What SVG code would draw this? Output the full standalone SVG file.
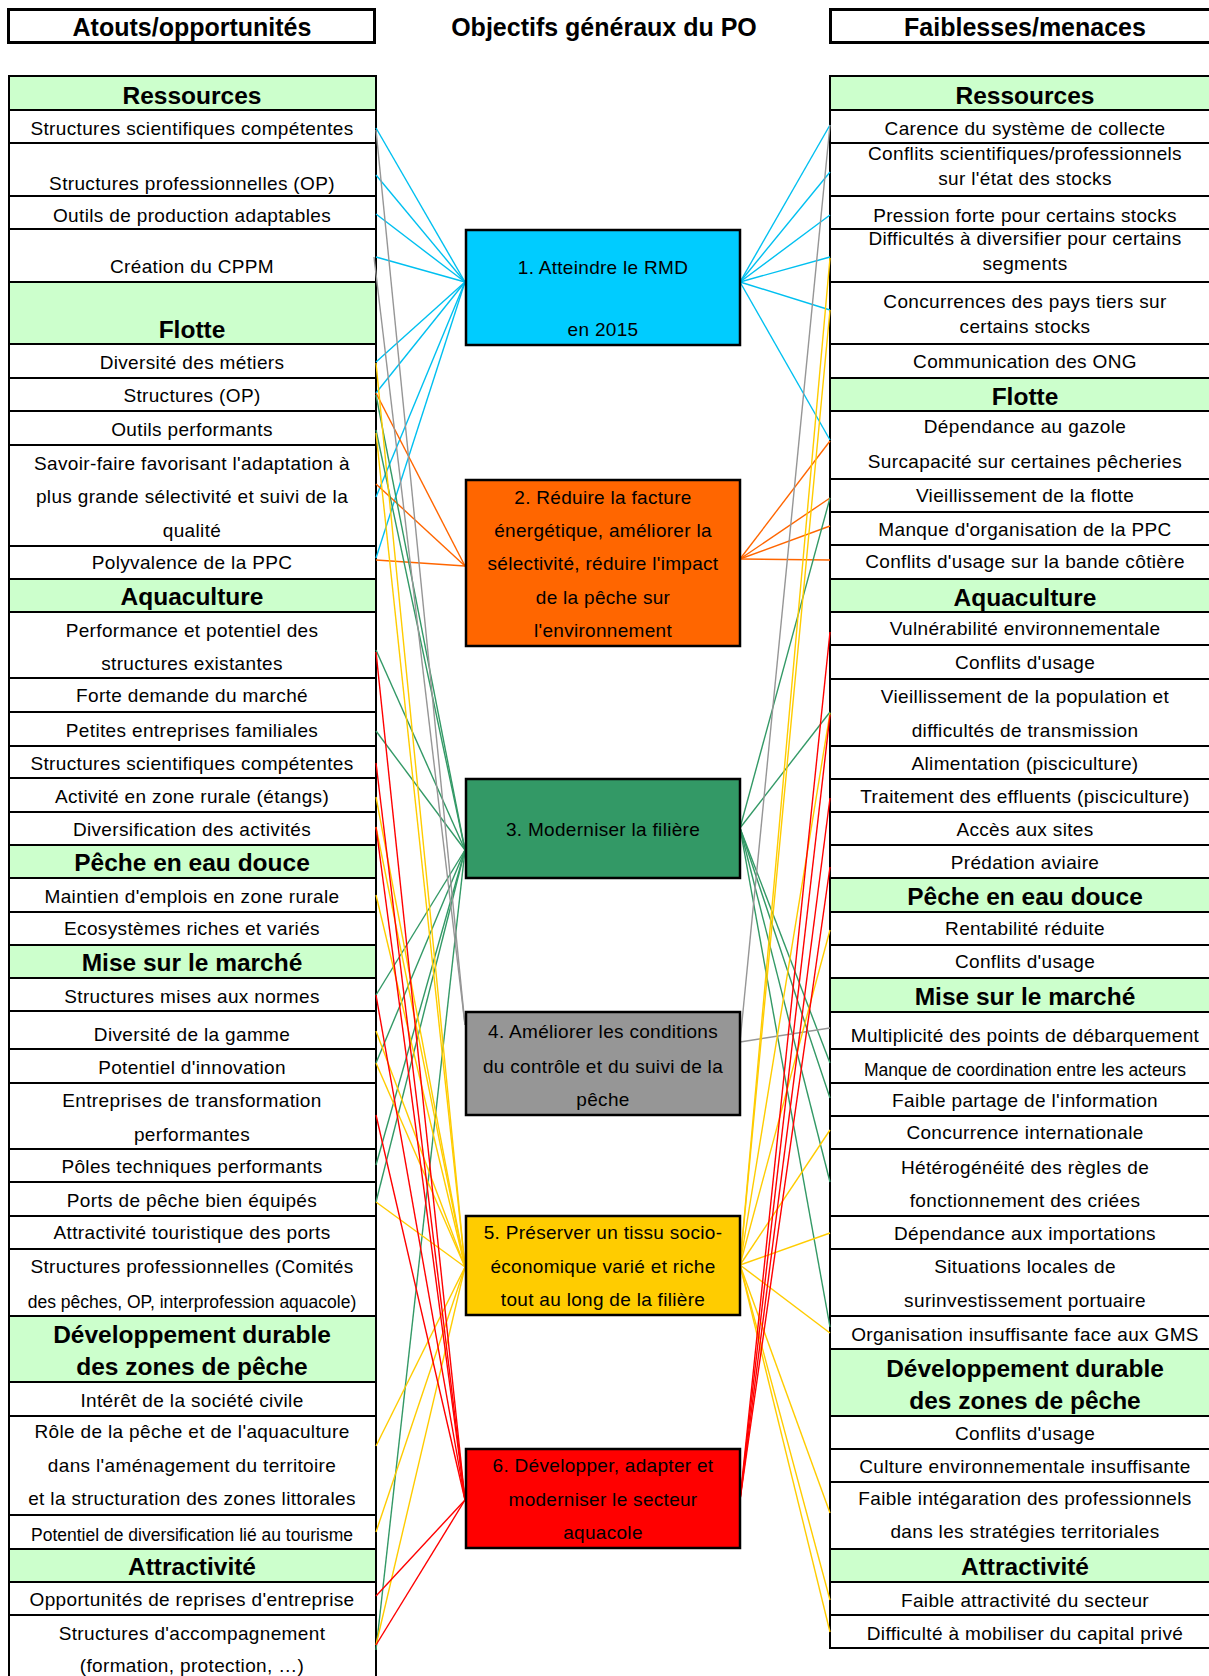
<svg xmlns="http://www.w3.org/2000/svg" width="1209" height="1676" viewBox="0 0 1209 1676">
<style>
text{font-family:"Liberation Sans",Arial,sans-serif;fill:#000}
.it{font-size:19px;text-anchor:middle;letter-spacing:0.35px}
.sm{font-size:17.5px;letter-spacing:0}
.hd{font-size:24.5px;font-weight:bold;text-anchor:middle}
.tt{font-size:25px;font-weight:bold;text-anchor:middle}
.bx{font-size:19px;text-anchor:middle;letter-spacing:0.3px}
.cell{fill:#fff;stroke:#000;stroke-width:2}
.head{fill:#ccffcc;stroke:#000;stroke-width:2}
.ttl{fill:#fff;stroke:#000;stroke-width:3}
.obj{stroke:#000;stroke-width:2.5}
#connectors line{stroke-width:1.4}
.c1{stroke:#00c0f0}.c2{stroke:#ff6600}.c3{stroke:#339966}.c4{stroke:#969696}.c5{stroke:#ffcc00}.c6{stroke:#ff0000}
</style>
<rect width="1209" height="1676" fill="#fff"/>
<g id="titles">
<g id="title-left"><rect class="ttl" x="8.5" y="9.5" width="366" height="33"/><text class="tt" x="192" y="36">Atouts/opportunités</text></g>
<g id="title-center"><text class="tt" x="604" y="36">Objectifs généraux du PO</text></g>
<g id="title-right"><rect class="ttl" x="830.5" y="9.5" width="390" height="33"/><text class="tt" x="1025" y="36">Faiblesses/menaces</text></g>
</g>
<g id="left-table">
<g id="L-h1"><rect class="head" x="9" y="76" width="367" height="34"/><text class="hd" x="192" y="104">Ressources</text></g>
<g id="L1"><rect class="cell" x="9" y="110" width="367" height="33"/><text class="it" x="192" y="135">Structures scientifiques compétentes</text></g>
<g id="L2"><rect class="cell" x="9" y="143" width="367" height="53"/><text class="it" x="192" y="190">Structures professionnelles (OP)</text></g>
<g id="L3"><rect class="cell" x="9" y="196" width="367" height="33"/><text class="it" x="192" y="222">Outils de production adaptables</text></g>
<g id="L4"><rect class="cell" x="9" y="229" width="367" height="53"/><text class="it" x="192" y="273">Création du CPPM</text></g>
<g id="L-h2"><rect class="head" x="9" y="282" width="367" height="62"/><text class="hd" x="192" y="338">Flotte</text></g>
<g id="L5"><rect class="cell" x="9" y="344" width="367" height="34"/><text class="it" x="192" y="369">Diversité des métiers</text></g>
<g id="L6"><rect class="cell" x="9" y="378" width="367" height="33"/><text class="it" x="192" y="402">Structures (OP)</text></g>
<g id="L7"><rect class="cell" x="9" y="411" width="367" height="34"/><text class="it" x="192" y="436">Outils performants</text></g>
<g id="L8"><rect class="cell" x="9" y="445" width="367" height="101"/><text class="it" x="192" y="470">Savoir-faire favorisant l'adaptation à</text><text class="it" x="192" y="503">plus grande sélectivité et suivi de la</text><text class="it" x="192" y="537">qualité</text></g>
<g id="L9"><rect class="cell" x="9" y="546" width="367" height="33"/><text class="it" x="192" y="569">Polyvalence de la PPC</text></g>
<g id="L-h3"><rect class="head" x="9" y="579" width="367" height="33"/><text class="hd" x="192" y="605">Aquaculture</text></g>
<g id="L10"><rect class="cell" x="9" y="612" width="367" height="66"/><text class="it" x="192" y="637">Performance et potentiel des</text><text class="it" x="192" y="670">structures existantes</text></g>
<g id="L11"><rect class="cell" x="9" y="678" width="367" height="34"/><text class="it" x="192" y="702">Forte demande du marché</text></g>
<g id="L12"><rect class="cell" x="9" y="712" width="367" height="34"/><text class="it" x="192" y="737">Petites entreprises familiales</text></g>
<g id="L13"><rect class="cell" x="9" y="746" width="367" height="32"/><text class="it" x="192" y="770">Structures scientifiques compétentes</text></g>
<g id="L14"><rect class="cell" x="9" y="778" width="367" height="34"/><text class="it" x="192" y="803">Activité en zone rurale (étangs)</text></g>
<g id="L15"><rect class="cell" x="9" y="812" width="367" height="33"/><text class="it" x="192" y="836">Diversification des activités</text></g>
<g id="L-h4"><rect class="head" x="9" y="845" width="367" height="33"/><text class="hd" x="192" y="871">Pêche en eau douce</text></g>
<g id="L16"><rect class="cell" x="9" y="878" width="367" height="34"/><text class="it" x="192" y="903">Maintien d'emplois en zone rurale</text></g>
<g id="L17"><rect class="cell" x="9" y="912" width="367" height="33"/><text class="it" x="192" y="935">Ecosystèmes riches et variés</text></g>
<g id="L-h5"><rect class="head" x="9" y="945" width="367" height="33"/><text class="hd" x="192" y="971">Mise sur le marché</text></g>
<g id="L18"><rect class="cell" x="9" y="978" width="367" height="33"/><text class="it" x="192" y="1003">Structures mises aux normes</text></g>
<g id="L19"><rect class="cell" x="9" y="1011" width="367" height="38"/><text class="it" x="192" y="1041">Diversité de la gamme</text></g>
<g id="L20"><rect class="cell" x="9" y="1049" width="367" height="34"/><text class="it" x="192" y="1074">Potentiel d'innovation</text></g>
<g id="L21"><rect class="cell" x="9" y="1083" width="367" height="66"/><text class="it" x="192" y="1107">Entreprises de transformation</text><text class="it" x="192" y="1141">performantes</text></g>
<g id="L22"><rect class="cell" x="9" y="1149" width="367" height="33"/><text class="it" x="192" y="1173">Pôles techniques performants</text></g>
<g id="L23"><rect class="cell" x="9" y="1182" width="367" height="34"/><text class="it" x="192" y="1207">Ports de pêche bien équipés</text></g>
<g id="L24"><rect class="cell" x="9" y="1216" width="367" height="33"/><text class="it" x="192" y="1239">Attractivité touristique des ports</text></g>
<g id="L25"><rect class="cell" x="9" y="1249" width="367" height="67"/><text class="it" x="192" y="1273">Structures professionnelles (Comités</text><text class="it sm" x="192" y="1308">des pêches, OP, interprofession aquacole)</text></g>
<g id="L-h6"><rect class="head" x="9" y="1316" width="367" height="66"/><text class="hd" x="192" y="1343">Développement durable</text><text class="hd" x="192" y="1375">des zones de pêche</text></g>
<g id="L26"><rect class="cell" x="9" y="1382" width="367" height="34"/><text class="it" x="192" y="1407">Intérêt de la société civile</text></g>
<g id="L27"><rect class="cell" x="9" y="1416" width="367" height="99"/><text class="it" x="192" y="1438">Rôle de la pêche et de l'aquaculture</text><text class="it" x="192" y="1472">dans l'aménagement du territoire</text><text class="it" x="192" y="1505">et la structuration des zones littorales</text></g>
<g id="L28"><rect class="cell" x="9" y="1515" width="367" height="34"/><text class="it sm" x="192" y="1541">Potentiel de diversification lié au tourisme</text></g>
<g id="L-h7"><rect class="head" x="9" y="1549" width="367" height="33"/><text class="hd" x="192" y="1575">Attractivité</text></g>
<g id="L29"><rect class="cell" x="9" y="1582" width="367" height="33"/><text class="it" x="192" y="1606">Opportunités de reprises d'entreprise</text></g>
<g id="L30"><rect class="cell" x="9" y="1615" width="367" height="80"/><text class="it" x="192" y="1640">Structures d'accompagnement</text><text class="it" x="192" y="1672">(formation, protection, …)</text></g>
</g>
<g id="right-table">
<g id="R-h1"><rect class="head" x="830" y="76" width="392" height="34"/><text class="hd" x="1025" y="104">Ressources</text></g>
<g id="R1"><rect class="cell" x="830" y="110" width="392" height="33"/><text class="it" x="1025" y="135">Carence du système de collecte</text></g>
<g id="R2"><rect class="cell" x="830" y="143" width="392" height="53"/><text class="it" x="1025" y="160">Conflits scientifiques/professionnels</text><text class="it" x="1025" y="185">sur l'état des stocks</text></g>
<g id="R3"><rect class="cell" x="830" y="196" width="392" height="33"/><text class="it" x="1025" y="222">Pression forte pour certains stocks</text></g>
<g id="R4"><rect class="cell" x="830" y="229" width="392" height="53"/><text class="it" x="1025" y="245">Difficultés à diversifier pour certains</text><text class="it" x="1025" y="270">segments</text></g>
<g id="R5"><rect class="cell" x="830" y="282" width="392" height="62"/><text class="it" x="1025" y="308">Concurrences des pays tiers sur</text><text class="it" x="1025" y="333">certains stocks</text></g>
<g id="R6"><rect class="cell" x="830" y="344" width="392" height="34"/><text class="it" x="1025" y="368">Communication des ONG</text></g>
<g id="R-h2"><rect class="head" x="830" y="378" width="392" height="33"/><text class="hd" x="1025" y="405">Flotte</text></g>
<g id="R7"><rect class="cell" x="830" y="411" width="392" height="68"/><text class="it" x="1025" y="433">Dépendance au gazole</text><text class="it" x="1025" y="468">Surcapacité sur certaines pêcheries</text></g>
<g id="R8"><rect class="cell" x="830" y="479" width="392" height="33"/><text class="it" x="1025" y="502">Vieillissement de la flotte</text></g>
<g id="R9"><rect class="cell" x="830" y="512" width="392" height="33"/><text class="it" x="1025" y="536">Manque d'organisation de la PPC</text></g>
<g id="R10"><rect class="cell" x="830" y="545" width="392" height="34"/><text class="it" x="1025" y="568">Conflits d'usage sur la bande côtière</text></g>
<g id="R-h3"><rect class="head" x="830" y="579" width="392" height="33"/><text class="hd" x="1025" y="606">Aquaculture</text></g>
<g id="R11"><rect class="cell" x="830" y="612" width="392" height="33"/><text class="it" x="1025" y="635">Vulnérabilité environnementale</text></g>
<g id="R12"><rect class="cell" x="830" y="645" width="392" height="34"/><text class="it" x="1025" y="669">Conflits d'usage</text></g>
<g id="R13"><rect class="cell" x="830" y="679" width="392" height="67"/><text class="it" x="1025" y="703">Vieillissement de la population et</text><text class="it" x="1025" y="737">difficultés de transmission</text></g>
<g id="R14"><rect class="cell" x="830" y="746" width="392" height="33"/><text class="it" x="1025" y="770">Alimentation (pisciculture)</text></g>
<g id="R15"><rect class="cell" x="830" y="779" width="392" height="33"/><text class="it" x="1025" y="803">Traitement des effluents (pisciculture)</text></g>
<g id="R16"><rect class="cell" x="830" y="812" width="392" height="33"/><text class="it" x="1025" y="836">Accès aux sites</text></g>
<g id="R17"><rect class="cell" x="830" y="845" width="392" height="33"/><text class="it" x="1025" y="869">Prédation aviaire</text></g>
<g id="R-h4"><rect class="head" x="830" y="878" width="392" height="34"/><text class="hd" x="1025" y="905">Pêche en eau douce</text></g>
<g id="R18"><rect class="cell" x="830" y="912" width="392" height="33"/><text class="it" x="1025" y="935">Rentabilité réduite</text></g>
<g id="R19"><rect class="cell" x="830" y="945" width="392" height="33"/><text class="it" x="1025" y="968">Conflits d'usage</text></g>
<g id="R-h5"><rect class="head" x="830" y="978" width="392" height="34"/><text class="hd" x="1025" y="1005">Mise sur le marché</text></g>
<g id="R20"><rect class="cell" x="830" y="1012" width="392" height="37"/><text class="it" x="1025" y="1042">Multiplicité des points de débarquement</text></g>
<g id="R21"><rect class="cell" x="830" y="1049" width="392" height="34"/><text class="it sm" x="1025" y="1076">Manque de coordination entre les acteurs</text></g>
<g id="R22"><rect class="cell" x="830" y="1083" width="392" height="33"/><text class="it" x="1025" y="1107">Faible partage de l'information</text></g>
<g id="R23"><rect class="cell" x="830" y="1116" width="392" height="33"/><text class="it" x="1025" y="1139">Concurrence internationale</text></g>
<g id="R24"><rect class="cell" x="830" y="1149" width="392" height="67"/><text class="it" x="1025" y="1174">Hétérogénéité des règles de</text><text class="it" x="1025" y="1207">fonctionnement des criées</text></g>
<g id="R25"><rect class="cell" x="830" y="1216" width="392" height="33"/><text class="it" x="1025" y="1240">Dépendance aux importations</text></g>
<g id="R26"><rect class="cell" x="830" y="1249" width="392" height="67"/><text class="it" x="1025" y="1273">Situations locales de</text><text class="it" x="1025" y="1307">surinvestissement portuaire</text></g>
<g id="R27"><rect class="cell" x="830" y="1316" width="392" height="33"/><text class="it" x="1025" y="1341">Organisation insuffisante face aux GMS</text></g>
<g id="R-h6"><rect class="head" x="830" y="1349" width="392" height="67"/><text class="hd" x="1025" y="1377">Développement durable</text><text class="hd" x="1025" y="1409">des zones de pêche</text></g>
<g id="R28"><rect class="cell" x="830" y="1416" width="392" height="33"/><text class="it" x="1025" y="1440">Conflits d'usage</text></g>
<g id="R29"><rect class="cell" x="830" y="1449" width="392" height="33"/><text class="it" x="1025" y="1473">Culture environnementale insuffisante</text></g>
<g id="R30"><rect class="cell" x="830" y="1482" width="392" height="67"/><text class="it" x="1025" y="1505">Faible intégaration des professionnels</text><text class="it" x="1025" y="1538">dans les stratégies territoriales</text></g>
<g id="R-h7"><rect class="head" x="830" y="1549" width="392" height="33"/><text class="hd" x="1025" y="1575">Attractivité</text></g>
<g id="R31"><rect class="cell" x="830" y="1582" width="392" height="33"/><text class="it" x="1025" y="1607">Faible attractivité du secteur</text></g>
<g id="R32"><rect class="cell" x="830" y="1615" width="392" height="33"/><text class="it" x="1025" y="1640">Difficulté à mobiliser du capital privé</text></g>
</g>
<g id="connectors">
<line class="c1" x1="465" y1="282" x2="376" y2="128"/>
<line class="c1" x1="465" y1="282" x2="376" y2="175"/>
<line class="c1" x1="465" y1="282" x2="376" y2="214"/>
<line class="c1" x1="465" y1="282" x2="376" y2="257"/>
<line class="c1" x1="465" y1="282" x2="376" y2="362"/>
<line class="c1" x1="465" y1="282" x2="376" y2="393"/>
<line class="c1" x1="465" y1="282" x2="376" y2="497"/>
<line class="c1" x1="465" y1="282" x2="376" y2="558"/>
<line class="c1" x1="740" y1="282" x2="830" y2="125"/>
<line class="c1" x1="740" y1="282" x2="830" y2="172"/>
<line class="c1" x1="740" y1="282" x2="830" y2="215"/>
<line class="c1" x1="740" y1="282" x2="830" y2="257"/>
<line class="c1" x1="740" y1="282" x2="830" y2="310"/>
<line class="c1" x1="740" y1="282" x2="830" y2="440"/>
<line class="c2" x1="465" y1="566" x2="376" y2="393"/>
<line class="c2" x1="465" y1="566" x2="376" y2="484"/>
<line class="c2" x1="465" y1="566" x2="376" y2="560"/>
<line class="c2" x1="740" y1="559" x2="830" y2="441"/>
<line class="c2" x1="740" y1="559" x2="830" y2="498"/>
<line class="c2" x1="740" y1="559" x2="830" y2="526"/>
<line class="c2" x1="740" y1="559" x2="830" y2="560"/>
<line class="c3" x1="465" y1="850" x2="376" y2="395"/>
<line class="c3" x1="465" y1="850" x2="376" y2="430"/>
<line class="c3" x1="465" y1="850" x2="376" y2="650"/>
<line class="c3" x1="465" y1="850" x2="376" y2="731"/>
<line class="c3" x1="465" y1="850" x2="376" y2="995"/>
<line class="c3" x1="465" y1="850" x2="376" y2="1063"/>
<line class="c3" x1="465" y1="850" x2="376" y2="1165"/>
<line class="c3" x1="465" y1="850" x2="376" y2="1202"/>
<line class="c3" x1="465" y1="850" x2="376" y2="1650"/>
<line class="c3" x1="740" y1="828" x2="830" y2="498"/>
<line class="c3" x1="740" y1="828" x2="830" y2="712"/>
<line class="c3" x1="740" y1="828" x2="830" y2="1063"/>
<line class="c3" x1="740" y1="828" x2="830" y2="1098"/>
<line class="c3" x1="740" y1="828" x2="830" y2="1182"/>
<line class="c3" x1="740" y1="828" x2="830" y2="1327"/>
<line class="c4" x1="465" y1="1025" x2="376" y2="130"/>
<line class="c4" x1="465" y1="1025" x2="374" y2="257"/>
<line class="c4" x1="740" y1="1042" x2="830" y2="125"/>
<line class="c4" x1="740" y1="1042" x2="830" y2="1028"/>
<line class="c5" x1="465" y1="1267" x2="376" y2="363"/>
<line class="c5" x1="465" y1="1267" x2="376" y2="433"/>
<line class="c5" x1="465" y1="1267" x2="376" y2="797"/>
<line class="c5" x1="465" y1="1267" x2="376" y2="827"/>
<line class="c5" x1="465" y1="1267" x2="376" y2="895"/>
<line class="c5" x1="465" y1="1267" x2="376" y2="1031"/>
<line class="c5" x1="465" y1="1267" x2="376" y2="1063"/>
<line class="c5" x1="465" y1="1267" x2="376" y2="1202"/>
<line class="c5" x1="465" y1="1267" x2="376" y2="1446"/>
<line class="c5" x1="465" y1="1267" x2="376" y2="1532"/>
<line class="c5" x1="465" y1="1267" x2="376" y2="1645"/>
<line class="c5" x1="740" y1="1265" x2="830" y2="258"/>
<line class="c5" x1="740" y1="1265" x2="830" y2="310"/>
<line class="c5" x1="740" y1="1265" x2="830" y2="713"/>
<line class="c5" x1="740" y1="1265" x2="830" y2="930"/>
<line class="c5" x1="740" y1="1265" x2="830" y2="1130"/>
<line class="c5" x1="740" y1="1265" x2="830" y2="1233"/>
<line class="c5" x1="740" y1="1265" x2="830" y2="1333"/>
<line class="c5" x1="740" y1="1265" x2="830" y2="1513"/>
<line class="c5" x1="740" y1="1265" x2="830" y2="1600"/>
<line class="c5" x1="740" y1="1265" x2="830" y2="1632"/>
<line class="c6" x1="465" y1="1500" x2="376" y2="652"/>
<line class="c6" x1="465" y1="1500" x2="376" y2="763"/>
<line class="c6" x1="465" y1="1500" x2="376" y2="827"/>
<line class="c6" x1="465" y1="1500" x2="376" y2="995"/>
<line class="c6" x1="465" y1="1500" x2="376" y2="1115"/>
<line class="c6" x1="465" y1="1500" x2="376" y2="1596"/>
<line class="c6" x1="465" y1="1500" x2="376" y2="1645"/>
<line class="c6" x1="740" y1="1500" x2="830" y2="632"/>
<line class="c6" x1="740" y1="1500" x2="830" y2="715"/>
<line class="c6" x1="740" y1="1500" x2="830" y2="798"/>
<line class="c6" x1="740" y1="1500" x2="830" y2="867"/>
</g>
<g id="objectives">
<g id="obj1"><rect class="obj" x="466" y="230" width="274" height="115" fill="#00ccff"/><text class="bx" x="603" y="274">1. Atteindre le RMD</text><text class="bx" x="603" y="336">en 2015</text></g>
<g id="obj2"><rect class="obj" x="466" y="480" width="274" height="166" fill="#ff6600"/><text class="bx" x="603" y="504">2. Réduire la facture</text><text class="bx" x="603" y="537">énergétique, améliorer la</text><text class="bx" x="603" y="570">sélectivité, réduire l'impact</text><text class="bx" x="603" y="604">de la pêche sur</text><text class="bx" x="603" y="637">l'environnement</text></g>
<g id="obj3"><rect class="obj" x="466" y="779" width="274" height="99" fill="#339966"/><text class="bx" x="603" y="836">3. Moderniser la filière</text></g>
<g id="obj4"><rect class="obj" x="466" y="1012" width="274" height="103" fill="#969696"/><text class="bx" x="603" y="1038">4. Améliorer les conditions</text><text class="bx" x="603" y="1073">du contrôle et du suivi de la</text><text class="bx" x="603" y="1106">pêche</text></g>
<g id="obj5"><rect class="obj" x="466" y="1216" width="274" height="99" fill="#ffcc00"/><text class="bx" x="603" y="1239">5. Préserver un tissu socio-</text><text class="bx" x="603" y="1273">économique varié et riche</text><text class="bx" x="603" y="1306">tout au long de la filière</text></g>
<g id="obj6"><rect class="obj" x="466" y="1449" width="274" height="99" fill="#ff0000"/><text class="bx" x="603" y="1472">6. Développer, adapter et</text><text class="bx" x="603" y="1506">moderniser le secteur</text><text class="bx" x="603" y="1539">aquacole</text></g>
</g>
</svg>
